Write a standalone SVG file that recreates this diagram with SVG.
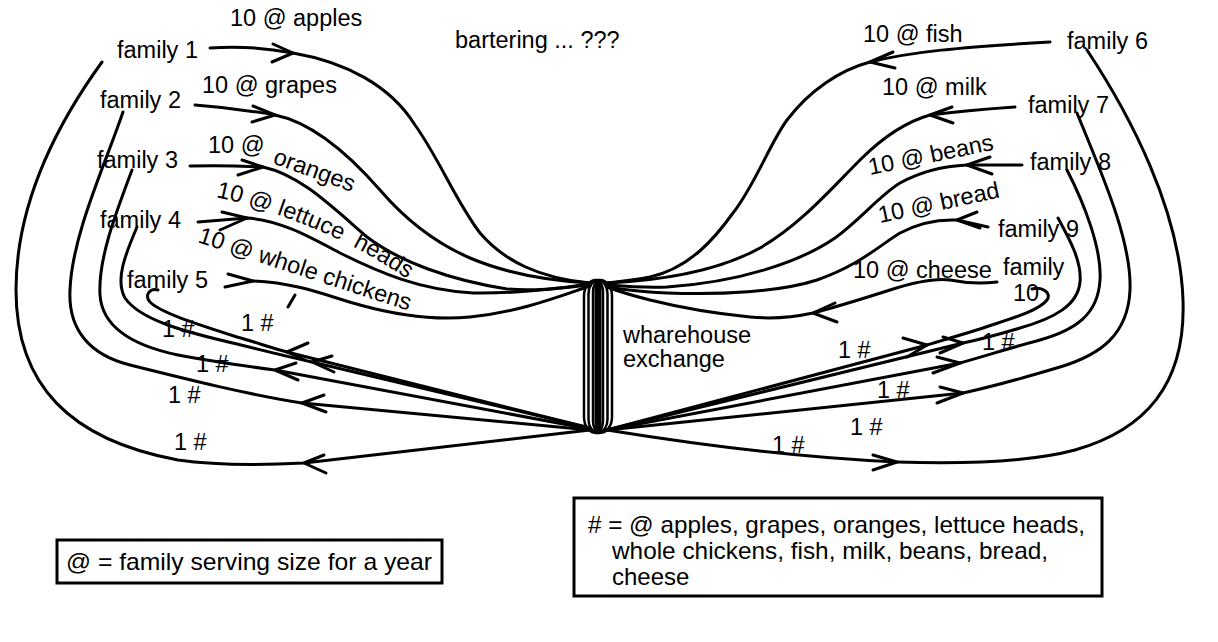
<svg xmlns="http://www.w3.org/2000/svg" width="1218" height="642" viewBox="0 0 1218 642">
<style>
text{font-family:"Liberation Sans",Arial,sans-serif;font-size:23.5px;fill:#000}
.c{fill:none;stroke:#000;stroke-width:3;stroke-linecap:round;stroke-linejoin:round}
.box{fill:#fff;stroke:#000;stroke-width:3}
.hub{fill:none;stroke:#000;stroke-width:2.5}
.lg{font-size:24px}
</style>
<defs>
  <path id="lettucePath" d="M216,197 C250,204 300,221 340,240 C365,252 388,266 415,284"/>
</defs>
<rect width="1218" height="642" fill="#fff"/>

<g id="connectors">
  <!-- left inputs -->
  <path class="c" d="M210,48 Q250,45 293,53 C345,62 390,85 415,125 C440,160 455,200 480,233 C505,262 540,278 590,283"/>
  <path class="c" d="M195,105 Q235,108 275,115 C310,122 345,150 380,190 C410,225 440,245 470,258 C510,275 555,281 590,283"/>
  <path class="c" d="M190,166 Q225,165 263,167 C300,175 330,205 367,237 C400,262 450,280 507,289 C545,292 570,286 590,284"/>
  <path class="c" d="M198,222 L247,218 C280,220 310,237 340,253 C380,273 420,290 473,293 C520,294 560,288 590,285"/>
  <path class="c" d="M253,281 C300,283 330,297 360,305 C400,316 440,320 470,317 C520,312 560,296 590,286"/>
  <path class="c" d="M273,44 L293,53 L272,62"/>
  <path class="c" d="M253,106 L275,115 L252,122"/>
  <path class="c" d="M242,160 L263,167 L238,175"/>
  <path class="c" d="M222,212 L247,218 L220,230"/>
  <path class="c" d="M228,274 L253,281 L225,287"/>
  <path class="c" d="M288,307 L295,295"/>
  <!-- left outputs -->
  <path class="c" d="M102,62 C60,120 16,200 16,290 C16,385 70,440 178,460 C220,466 265,465 304,463 L590,430"/>
  <path class="c" d="M123,112 C105,165 72,235 70,290 C68,330 90,355 130,365 C190,380 250,395 302,403 L590,430"/>
  <path class="c" d="M132,170 C115,215 98,260 100,295 C102,325 130,345 178,355 C215,362 245,366 275,370 L590,429"/>
  <path class="c" d="M137,227 C125,255 115,280 125,298 C140,320 185,332 237,344 C265,351 290,357 312,362 L590,428"/>
  <path class="c" d="M158,290 C150,288 144,295 150,302 C160,312 190,322 237,337 C255,342 272,348 287,352 L590,428"/>
  <path class="c" d="M324,455 L304,463 L326,473"/>
  <path class="c" d="M324,395 L302,403 L326,412"/>
  <path class="c" d="M296,363 L275,370 L298,380"/>
  <path class="c" d="M332,356 L312,362 L334,372"/>
  <path class="c" d="M308,343 L287,352 L305,360"/>
  <!-- right inputs -->
  <path class="c" d="M1050,42 C960,47 910,52 870,62 C840,70 810,90 787,120 C770,143 755,185 733,213 C715,238 690,268 650,277 C630,281 615,282 607,283"/>
  <path class="c" d="M1015,107 Q970,110 930,115 C905,122 880,140 860,160 C830,190 800,225 760,248 C720,270 670,280 607,283"/>
  <path class="c" d="M1022,165 L967,165 C945,166 920,172 900,183 C880,195 860,220 835,238 C800,262 740,282 667,287 C640,288 620,286 607,285"/>
  <path class="c" d="M988,227 L957,220 C935,219 915,225 900,233 C880,245 860,265 817,280 C780,292 720,295 667,293 C640,292 620,289 607,287"/>
  <path class="c" d="M997,282 C980,284 965,283 950,280 C935,278 915,282 890,290 C865,298 840,306 813,313 C790,318 770,319 750,317 C720,314 690,310 650,300 C630,295 615,290 607,287"/>
  <path class="c" d="M893,52 L870,62 L895,68"/>
  <path class="c" d="M952,107 L930,115 L953,123"/>
  <path class="c" d="M990,157 L967,165 L992,174"/>
  <path class="c" d="M977,212 L957,220 L980,228"/>
  <path class="c" d="M835,303 L813,313 L837,322"/>
  <!-- right outputs -->
  <path class="c" d="M1087,50 C1130,115 1180,210 1183,300 C1186,385 1145,430 1075,450 C1030,462 960,464 897,462 C800,458 700,445 607,430"/>
  <path class="c" d="M1077,113 C1100,170 1132,240 1130,290 C1128,335 1100,355 1060,367 C1030,376 995,386 963,393 L607,430"/>
  <path class="c" d="M1067,170 C1085,205 1102,250 1100,280 C1098,315 1075,330 1040,340 C1010,348 985,356 960,363 L607,430"/>
  <path class="c" d="M1058,218 C1070,240 1082,262 1080,282 C1078,305 1055,318 1020,328 C1000,334 982,339 963,343 L607,430"/>
  <path class="c" d="M1032,289 C1042,286 1052,293 1047,300 C1040,309 1020,316 995,324 C975,331 950,338 927,345 L607,430"/>
  <path class="c" d="M873,455 L897,462 L873,470"/>
  <path class="c" d="M940,387 L963,393 L937,403"/>
  <path class="c" d="M937,357 L960,363 L933,373"/>
  <path class="c" d="M943,337 L963,343 L940,353"/>
  <path class="c" d="M903,338 L927,345 L907,357"/>
  <!-- labels -->
  <text x="230" y="26">10 @ apples</text>
  <text x="202" y="93">10 @ grapes</text>
  <text x="208" y="153">10 @</text>
  <text transform="translate(272,163) rotate(20)">oranges</text>
  <text xml:space="preserve"><textPath href="#lettucePath">10 @ lettuce  heads</textPath></text>
  <text transform="translate(197,242) rotate(18)">10 @ whole chickens</text>
  <text x="863" y="42">10 @ fish</text>
  <text x="882" y="95">10 @ milk</text>
  <text transform="translate(870,175) rotate(-11.5)">10 @ beans</text>
  <text transform="translate(880,223) rotate(-12)">10 @ bread</text>
  <text x="853" y="278">10 @ cheese</text>
  <text x="162" y="337">1 #</text>
  <text x="241" y="331">1 #</text>
  <text x="196" y="372">1 #</text>
  <text x="168" y="403">1 #</text>
  <text x="174" y="450">1 #</text>
  <text x="838" y="358">1 #</text>
  <text x="982" y="350">1 #</text>
  <text x="877" y="398">1 #</text>
  <text x="850" y="435">1 #</text>
  <text x="772" y="453">1 #</text>
</g>

<g id="hub">
  <rect class="hub" x="584" y="280" width="28" height="153" rx="12" ry="16"/>
  <rect class="hub" x="588.5" y="281" width="19" height="151" rx="8" ry="13"/>
  <rect class="hub" x="593" y="282" width="10" height="149" rx="5" ry="10"/>
  <line x1="598" y1="283" x2="598" y2="430" stroke="#000" stroke-width="7"/>
  <text x="623" y="343">wharehouse</text>
  <text x="623" y="367">exchange</text>
</g>

<g id="title"><text x="455" y="48">bartering ... ???</text></g>

<g id="family1"><text x="117" y="58">family 1</text></g>
<g id="family2"><text x="100" y="108">family 2</text></g>
<g id="family3"><text x="97" y="168">family 3</text></g>
<g id="family4"><text x="100" y="228">family 4</text></g>
<g id="family5"><text x="127" y="288">family 5</text></g>
<g id="family6"><text x="1067" y="49">family 6</text></g>
<g id="family7"><text x="1028" y="113">family 7</text></g>
<g id="family8"><text x="1030" y="170">family 8</text></g>
<g id="family9"><text x="998" y="237">family 9</text></g>
<g id="family10"><text x="1003" y="275">family</text><text x="1013" y="301">10</text></g>

<g id="legend-at">
  <rect class="box" x="57" y="540" width="385" height="43"/>
  <text class="lg" x="66" y="570" textLength="366" lengthAdjust="spacingAndGlyphs">@ = family serving size for a year</text>
</g>
<g id="legend-hash">
  <rect class="box" x="574" y="498" width="528" height="98"/>
  <text class="lg" x="588" y="533" textLength="497" lengthAdjust="spacingAndGlyphs"># = @ apples, grapes, oranges, lettuce heads,</text>
  <text class="lg" x="612" y="559" textLength="436" lengthAdjust="spacingAndGlyphs">whole chickens, fish, milk, beans, bread,</text>
  <text class="lg" x="612" y="585">cheese</text>
</g>
</svg>
